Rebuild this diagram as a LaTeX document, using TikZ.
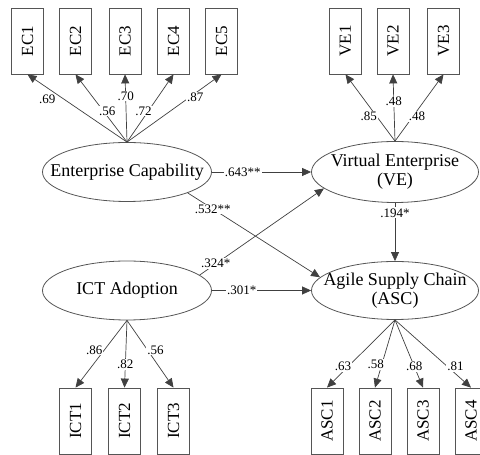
\documentclass[tikz,border=0pt]{standalone}
\usepackage{fontspec}
\setmainfont{Liberation Serif}
\usetikzlibrary{shapes.geometric, arrows.meta, positioning}
\definecolor{linegray}{RGB}{64,64,64}
\definecolor{boxgray}{RGB}{85,85,85}
\tikzset{
  latent/.style={ellipse, draw=boxgray, line width=0.8pt, inner xsep=-20pt, inner ysep=0pt, align=center, font=\fontsize{18}{19}\selectfont},
  obs/.style={rectangle, draw=boxgray, line width=0.8pt, minimum width=32, minimum height=66, inner sep=0pt, font=\fontsize{17}{18}\selectfont},
  link/.style={draw=linegray, line width=0.7pt, -{Triangle[length=9pt,width=8pt]}},
  wt/.style={fill=white, inner sep=1pt, font=\fontsize{13}{14}\selectfont}
}
\newcommand\obsbox[4]{\node[obs] (#1) at (#2,#3) {\rotatebox{90}{#4}};}

\begin{document}
\begin{tikzpicture}[x=1pt,y=1pt]
\useasboundingbox (0,0) rectangle (480,455);

% latent variables
\node[latent, minimum width=169, minimum height=59] (ec) at (127,283) {Enterprise Capability};
\node[latent, minimum width=167, minimum height=61] (ve) at (395,283) {Virtual Enterprise\\(VE)};
\node[latent, minimum width=169, minimum height=59] (ict) at (127,164.5) {ICT Adoption};
\node[latent, minimum width=167, minimum height=58] (asc) at (395,164.5) {Agile Supply Chain\\(ASC)};

% indicators
\obsbox{ec1}{27.5}{414}{EC1}
\obsbox{ec2}{75.5}{414}{EC2}
\obsbox{ec3}{125}{414}{EC3}
\obsbox{ec4}{173.5}{414}{EC4}
\obsbox{ec5}{221.5}{414}{EC5}
\obsbox{ve1}{345.5}{414}{VE1}
\obsbox{ve2}{393}{414}{VE2}
\obsbox{ve3}{443.5}{414}{VE3}
\obsbox{ict1}{75.5}{34}{ICT1}
\obsbox{ict2}{124.5}{34}{ICT2}
\obsbox{ict3}{173.5}{34}{ICT3}
\obsbox{asc1}{327}{34}{ASC1}
\obsbox{asc2}{375}{34}{ASC2}
\obsbox{asc3}{423}{34}{ASC3}
\obsbox{asc4}{471}{34}{ASC4}

% loadings
\draw[link] (ec.north) -- node[wt, pos=.72, xshift=-8, yshift=-6] {.69} (ec1.south);
\draw[link] (ec.north) -- node[wt, pos=.46, xshift=4] {.56} (ec2.south);
\draw[link] (ec.north) -- node[wt, pos=.68] {.70} (ec3.south);
\draw[link] (ec.north) -- node[wt, pos=.46, xshift=-5] {.72} (ec4.south);
\draw[link] (ec.north) -- node[wt, pos=.66, xshift=6] {.87} (ec5.south);
\draw[link] (ve.north) -- node[wt, pos=.37, xshift=-8] {.85} (ve1.south);
\draw[link] (ve.north) -- node[wt, pos=.59] {.48} (ve2.south);
\draw[link] (ve.north) -- node[wt, pos=.37, xshift=4] {.48} (ve3.south);
\draw[link] (ict.south) -- node[wt, pos=.44, xshift=-10] {.86} (ict1.north);
\draw[link] (ict.south) -- node[wt, pos=.66] {.82} (ict2.north);
\draw[link] (ict.south) -- node[wt, pos=.44, xshift=8] {.56} (ict3.north);
\draw[link] (asc.south) -- node[wt, pos=.69, xshift=-5] {.63} (asc1.north);
\draw[link] (asc.south) -- node[wt, pos=.66, xshift=-6] {.58} (asc2.north);
\draw[link] (asc.south) -- node[wt, pos=.69] {.68} (asc3.north);
\draw[link] (asc.south) -- node[wt, pos=.69, xshift=8] {.81} (asc4.north);

% structural paths
\draw[link] (ec) -- node[wt, pos=.31] {.643**} (ve);
\draw[link] (ec.-19) -- node[wt, pos=.19] {.532**} (asc.170);
\draw[link] (ict.12) -- node[wt, pos=.13] {.324*} (ve.193);
\draw[link] (ict) -- node[wt, pos=.3] {.301*} (asc);
\draw[link] (ve) -- node[wt, pos=.17] {.194*} (asc);
\end{tikzpicture}
\end{document}
